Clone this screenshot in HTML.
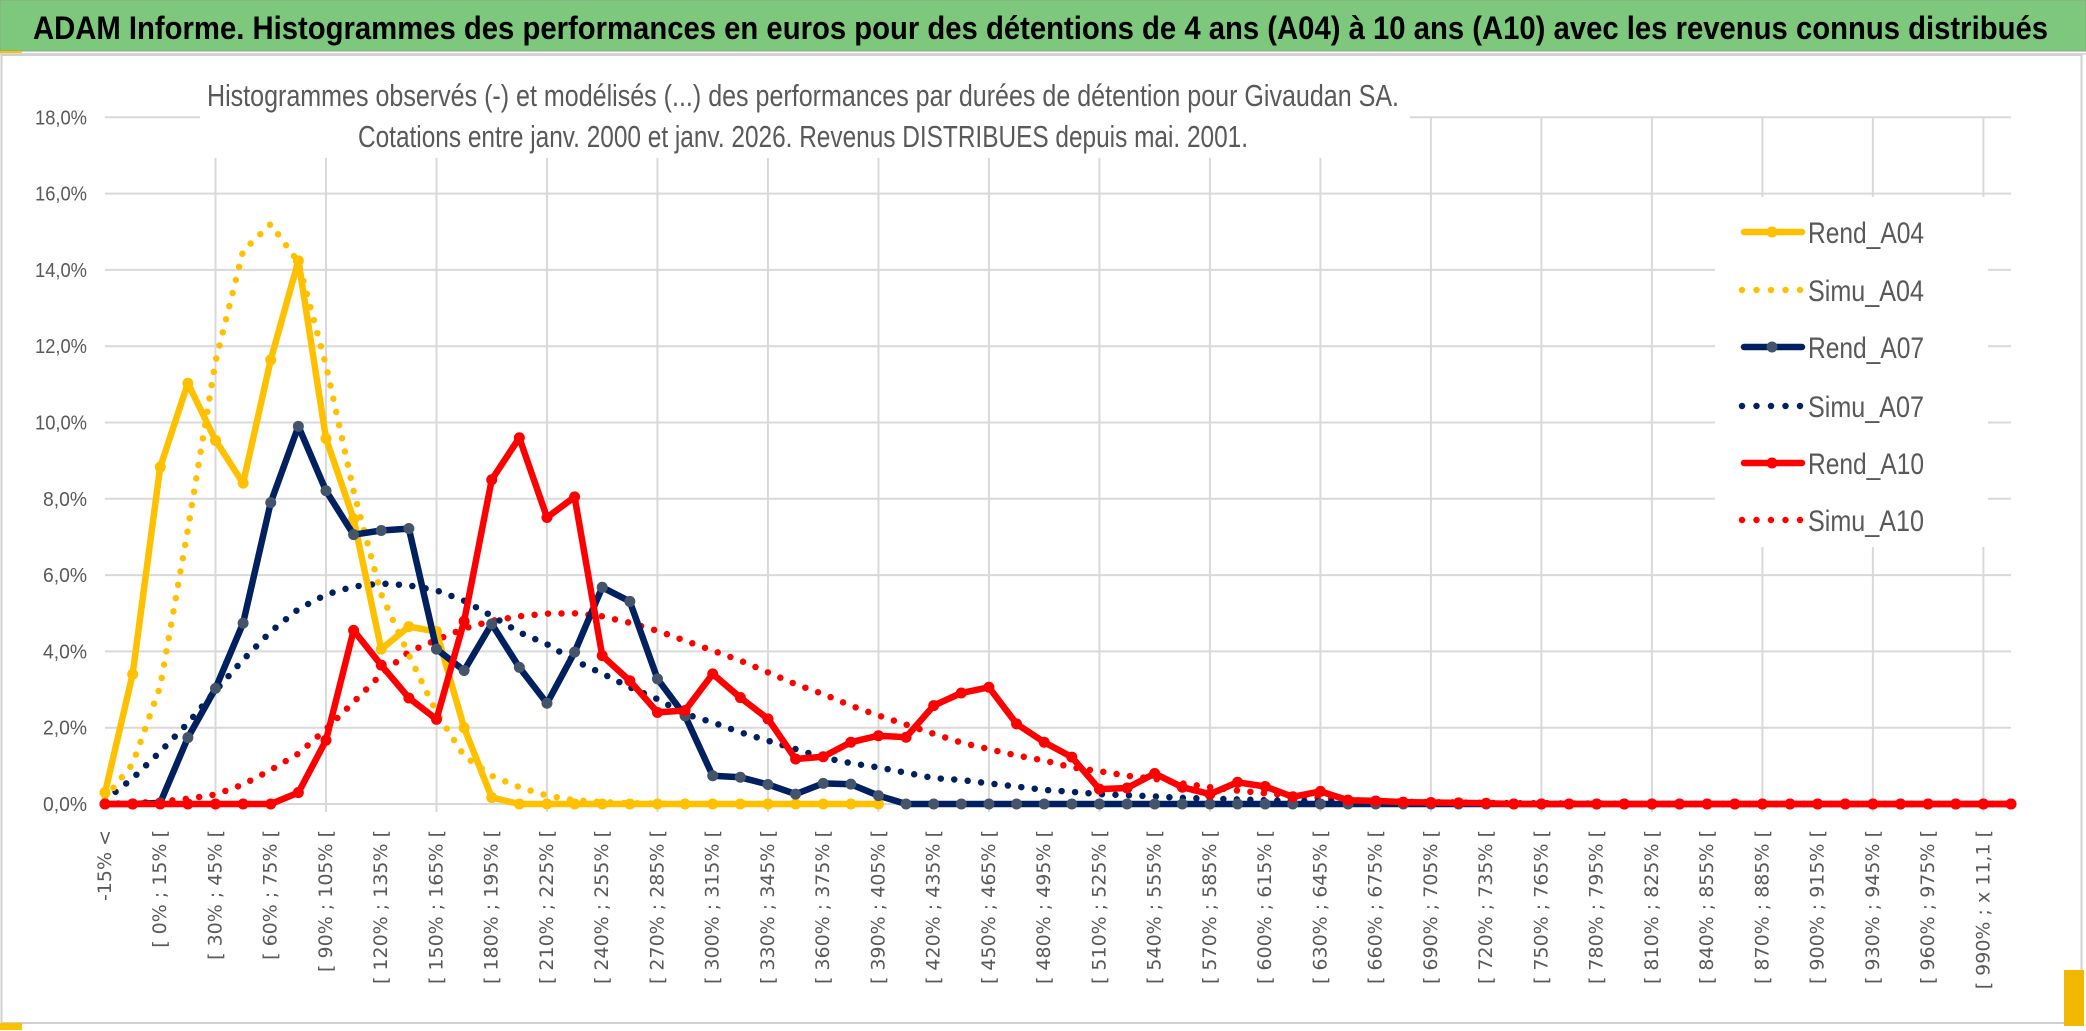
<!DOCTYPE html>
<html><head><meta charset="utf-8"><title>ADAM Informe</title>
<style>
html,body{margin:0;padding:0;background:#fff;}
svg{display:block;}
text{font-family:"Liberation Sans",Arial,sans-serif;}
</style></head>
<body>
<svg id="chart" width="2086" height="1031" viewBox="0 0 2086 1031" xmlns="http://www.w3.org/2000/svg">
  <rect x="0" y="0" width="2086" height="1031" fill="#ffffff"/>
  <rect x="0" y="0" width="2086" height="51" fill="#7dc87c" stroke="#8aa88a" stroke-width="1"/>
  <text x="33" y="39" font-size="32" font-weight="bold" fill="#000" textLength="2015" lengthAdjust="spacingAndGlyphs">ADAM Informe. Histogrammes des performances en euros pour des détentions de 4 ans (A04) à 10 ans (A10) avec les revenus connus distribués</text>
  <rect x="0" y="51" width="22" height="3" fill="#ffc000"/>
  <line x1="0" y1="54" x2="2086" y2="54" stroke="#d9d9d9" stroke-width="2"/>
  <rect x="1.5" y="55" width="2080" height="968" fill="none" stroke="#d0d0d0" stroke-width="2"/>
  <rect x="0" y="1023" width="22" height="7" fill="#ffc000"/>
  <rect x="2064" y="970" width="20" height="56" fill="#f2b800"/>
  <g id="grid"></g>
  <g id="ylabels"></g>
  <g id="xlabels"></g>
  <rect x="200" y="60" width="1210" height="98" fill="#ffffff"/>
  <text x="207" y="106" font-size="31" fill="#595959" textLength="1192" lengthAdjust="spacingAndGlyphs">Histogrammes observés (-) et modélisés (...) des performances par durées de détention pour Givaudan SA.</text>
  <text x="358" y="147" font-size="31" fill="#595959" textLength="890" lengthAdjust="spacingAndGlyphs">Cotations entre janv. 2000 et janv. 2026. Revenus DISTRIBUES depuis mai. 2001.</text>
  <g id="series"></g>
  <rect x="1715" y="197" width="273" height="350" fill="#ffffff"/>
  <g id="legend"></g>
</svg>
<script>
const categories = ["-15% <","[ -15% ; 0% [","[ 0% ; 15% [","[ 15% ; 30% [","[ 30% ; 45% [","[ 45% ; 60% [","[ 60% ; 75% [","[ 75% ; 90% [","[ 90% ; 105% [","[ 105% ; 120% [","[ 120% ; 135% [","[ 135% ; 150% [","[ 150% ; 165% [","[ 165% ; 180% [","[ 180% ; 195% [","[ 195% ; 210% [","[ 210% ; 225% [","[ 225% ; 240% [","[ 240% ; 255% [","[ 255% ; 270% [","[ 270% ; 285% [","[ 285% ; 300% [","[ 300% ; 315% [","[ 315% ; 330% [","[ 330% ; 345% [","[ 345% ; 360% [","[ 360% ; 375% [","[ 375% ; 390% [","[ 390% ; 405% [","[ 405% ; 420% [","[ 420% ; 435% [","[ 435% ; 450% [","[ 450% ; 465% [","[ 465% ; 480% [","[ 480% ; 495% [","[ 495% ; 510% [","[ 510% ; 525% [","[ 525% ; 540% [","[ 540% ; 555% [","[ 555% ; 570% [","[ 570% ; 585% [","[ 585% ; 600% [","[ 600% ; 615% [","[ 615% ; 630% [","[ 630% ; 645% [","[ 645% ; 660% [","[ 660% ; 675% [","[ 675% ; 690% [","[ 690% ; 705% [","[ 705% ; 720% [","[ 720% ; 735% [","[ 735% ; 750% [","[ 750% ; 765% [","[ 765% ; 780% [","[ 780% ; 795% [","[ 795% ; 810% [","[ 810% ; 825% [","[ 825% ; 840% [","[ 840% ; 855% [","[ 855% ; 870% [","[ 870% ; 885% [","[ 885% ; 900% [","[ 900% ; 915% [","[ 915% ; 930% [","[ 930% ; 945% [","[ 945% ; 960% [","[ 960% ; 975% [","[ 975% ; 990% [","[ 990% ; x 11,1 [","> x 11,1"];
const yTicks = [0,2,4,6,8,10,12,14,16,18];
const yTickLabels = ["0,0%","2,0%","4,0%","6,0%","8,0%","10,0%","12,0%","14,0%","16,0%","18,0%"];
const rendA04 = [0.3,3.4,8.83,11.03,9.53,8.41,11.64,14.24,9.58,7.47,4.06,4.65,4.52,2.0,0.17,0,0,0,0,0,0,0,0,0,0,0,0,0,0];
const simuA04 = [0.15,1.05,3.08,7.2,11.6,14.5,15.2,14.2,11.5,8.2,5.5,3.9,2.4,1.26,0.74,0.44,0.22,0.1,0.05,0.02,0.01,0,0,0,0,0,0,0,0];
const rendA07 = [0,0,0.03,1.74,3.03,4.74,7.9,9.9,8.21,7.06,7.17,7.22,4.06,3.5,4.72,3.58,2.64,3.98,5.68,5.31,3.28,2.31,0.74,0.7,0.51,0.26,0.54,0.52,0.22,0,0,0,0,0,0,0,0,0,0,0,0,0,0,0,0,0,0,0,0,0,0,0,0,0,0,0,0,0,0,0,0,0,0,0,0,0,0,0,0,0];
const simuA07 = [0.1,0.67,1.37,2.12,2.97,3.78,4.52,5.11,5.49,5.7,5.78,5.73,5.6,5.33,4.93,4.5,4.19,3.76,3.42,3.06,2.75,2.36,2.14,1.88,1.66,1.44,1.22,1.07,0.96,0.82,0.68,0.63,0.54,0.46,0.37,0.32,0.26,0.23,0.2,0.16,0.14,0.12,0.1,0.08,0.07,0.05,0.04,0.03,0.03,0.02,0.02,0.01,0.01,0.01,0.01,0,0,0,0,0,0,0,0,0,0,0,0,0,0,0];
const rendA10 = [0,0,0,0,0,0,0,0.3,1.67,4.55,3.64,2.78,2.22,4.79,8.5,9.6,7.51,8.05,3.89,3.23,2.4,2.45,3.41,2.79,2.23,1.18,1.24,1.62,1.79,1.75,2.58,2.91,3.06,2.1,1.62,1.23,0.39,0.42,0.8,0.44,0.26,0.57,0.46,0.19,0.33,0.1,0.08,0.05,0.04,0.03,0.02,0,0,0,0,0,0,0,0,0,0,0,0,0,0,0,0,0,0,0];
const simuA10 = [0,0.03,0.06,0.14,0.25,0.51,0.89,1.32,1.96,2.67,3.4,3.99,4.3,4.6,4.8,4.92,4.99,5.0,4.92,4.75,4.54,4.28,4.02,3.76,3.45,3.14,2.88,2.58,2.32,2.08,1.84,1.61,1.44,1.27,1.14,0.96,0.86,0.74,0.66,0.54,0.44,0.35,0.28,0.22,0.16,0.1,0.08,0.06,0.05,0.04,0.03,0.02,0.02,0.01,0.01,0,0,0,0,0,0,0,0,0,0,0,0,0,0,0];

const NS = "http://www.w3.org/2000/svg";
const X0 = 105, X1 = 2011, Y0 = 804, YTOP = 117.3, YMAX = 18;
function xOf(i){ return X0 + i * (X1 - X0) / (categories.length - 1); }
function yOf(v){ return Y0 - v * (Y0 - YTOP) / YMAX; }
function mk(tag, attrs, parent){
  const el = document.createElementNS(NS, tag);
  for (const k in attrs) el.setAttribute(k, attrs[k]);
  parent.appendChild(el);
  return el;
}
const grid = document.getElementById('grid');
yTicks.forEach(function(t){
  const l = mk('line', {x1: X0, x2: X1, y1: yOf(t), y2: yOf(t), stroke: '#d9d9d9', 'stroke-width': 2}, grid);
  
  
});
categories.forEach(function(c, i){
  if (i % 4 === 0 && i > 0) {
    const l = mk('line', {x1: xOf(i), x2: xOf(i), y1: yOf(YMAX), y2: Y0 + 8, stroke: '#d9d9d9', 'stroke-width': 2}, grid);
    
    
  }
});
const yl = document.getElementById('ylabels');
yTicks.forEach(function(t, k){
  const tx = mk('text', {x: 87, y: yOf(t) + 7, 'font-size': 20, fill: '#595959', 'text-anchor': 'end', textLength: (t >= 10 ? 52 : 44), lengthAdjust: 'spacingAndGlyphs'}, yl);
  tx.textContent = yTickLabels[k];
  
  
});
const xl = document.getElementById('xlabels');
categories.forEach(function(c, i){
  if (i % 2 !== 0) return;
  const x = xOf(i), y = 830;
  const tx = mk('text', {x: x, y: y, 'font-size': 19, fill: '#595959', 'text-anchor': 'end', 'dominant-baseline': 'central', transform: 'rotate(-90 ' + x + ' ' + y + ')', style: 'font-family:"DejaVu Sans",sans-serif'}, xl);
  tx.textContent = c;
  
  
});
const sg = document.getElementById('series');
function pathFor(vals){
  return vals.map(function(v, i){ return (i ? 'L' : 'M') + xOf(i).toFixed(1) + ' ' + yOf(v).toFixed(1); }).join(' ');
}
function dotted(vals, color, name){
  const p = mk('path', {d: pathFor(vals), fill: 'none', stroke: color, 'stroke-width': 6.5, 'stroke-linecap': 'round', 'stroke-dasharray': '0 13.5'}, sg);
  
  
}
function solid(vals, color, mcolor, name){
  const g = mk('g', {}, sg);
  
  
  const p = mk('path', {d: pathFor(vals), fill: 'none', stroke: color, 'stroke-width': 6.5, 'stroke-linejoin': 'round'}, g);
  
  
  vals.forEach(function(v, i){
    const c = mk('circle', {cx: xOf(i), cy: yOf(v), r: 5.5, fill: mcolor}, g);
    
    
  });
}
dotted(simuA10, '#ff0000', 'simu-a10-line');
dotted(simuA07, '#002060', 'simu-a07-line');
dotted(simuA04, '#ffc000', 'simu-a04-line');
solid(rendA04, '#ffc000', '#ffc000', 'rend-a04-series');
solid(rendA07, '#002060', '#44546a', 'rend-a07-series');
solid(rendA10, '#ff0000', '#ff0000', 'rend-a10-series');

const legendNames = ["Rend_A04","Simu_A04","Rend_A07","Simu_A07","Rend_A10","Simu_A10"];
const legendColors = ['#ffc000','#ffc000','#002060','#002060','#ff0000','#ff0000'];
const legendMarkers = ['#ffc000',null,'#44546a',null,'#ff0000',null];
const legendY = [232,290,347,406,463,520];
const lg = document.getElementById('legend');
legendNames.forEach(function(n, k){
  const g = mk('g', {}, lg);
  
  
  const y = legendY[k];
  if (legendMarkers[k]) {
    mk('line', {x1: 1744, x2: 1802, y1: y, y2: y, stroke: legendColors[k], 'stroke-width': 6.5, 'stroke-linecap': 'round'}, g);
    mk('circle', {cx: 1772, cy: y, r: 5.5, fill: legendMarkers[k]}, g);
  } else {
    mk('line', {x1: 1742, x2: 1802, y1: y, y2: y, stroke: legendColors[k], 'stroke-width': 6.5, 'stroke-linecap': 'round', 'stroke-dasharray': '0 14.5'}, g);
  }
  const t = mk('text', {x: 1808, y: y + 11, 'font-size': 30, fill: '#595959', textLength: 116, lengthAdjust: 'spacingAndGlyphs'}, g);
  t.textContent = n;
  
  
});
</script>
</body></html>
